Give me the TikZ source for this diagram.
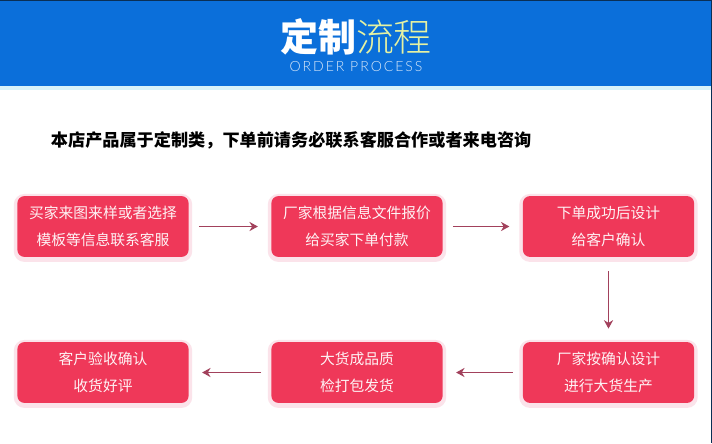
\documentclass[tikz,border=0pt]{standalone}
\usepackage{fontspec}
\usepackage{tikz}
\usetikzlibrary{arrows.meta,positioning}
\newfontfamily\cjk{Noto Sans CJK SC}
\newfontfamily\cjklight{Noto Sans CJK SC}[UprightFont=* Light]
\newfontfamily\thinlatin{Lato}[UprightFont=* Light,LetterSpace=14]
\definecolor{Banner}{HTML}{0B6FDA}
\definecolor{Navy}{HTML}{0A2F55}
\definecolor{Strip}{HTML}{D9F3FA}
\definecolor{Lime}{HTML}{E6F2A2}
\definecolor{Crimson}{HTML}{EF3859}
\definecolor{Blush}{HTML}{FBE3EA}
\definecolor{Wine}{HTML}{A2415C}

\begin{document}
\begin{tikzpicture}[x=0.025cm,y=-0.025cm,
    stepbox/.style={fill=Crimson,rounded corners=5pt,minimum width=4.28cm,minimum height=1.52cm,
      text=white!94!Crimson,align=center,font=\cjk\fontsize{10.5}{19}\selectfont,inner sep=0pt,
      preaction={draw=Blush,line width=5pt,transform canvas={yshift=-1pt}}},
    flow/.style={draw=Wine,line width=1.4pt,-{Stealth[length=6pt,width=6.5pt]},shorten <=0.25cm,shorten >=0.33cm}]
  \useasboundingbox (0,0) rectangle (712,443);
  \fill[white] (0,0) rectangle (712,443);
  % banner
  \fill[Banner] (0,0) rectangle (712,86);
  \fill[Strip] (0,86) rectangle (712,90);
  \draw[Navy,line width=1.2pt] (0,0.5)--(712,0.5);
  \draw[Navy,line width=1.2pt] (711.5,0)--(711.5,443);
  \node (title) at (356,37) {\fontsize{27}{27}\selectfont\cjk\bfseries\textcolor{white}{定制}\cjklight\mdseries\textcolor{Lime}{流程}};
  \node[text=white!85!Banner,font=\thinlatin\fontsize{10}{10}\selectfont] (subtitle) at (356,67) {ORDER PROCESS};
  \node[font=\cjk\bfseries\fontsize{12.2}{12}\selectfont,anchor=west] (note) at (46,140) {本店产品属于定制类，下单前请务必联系客服合作或者来电咨询};
  % steps
  \node[stepbox] (s1) at (103,226.5) {买家来图来样或者选择\\模板等信息联系客服};
  \node[stepbox] (s2) at (357,226.5) {厂家根据信息文件报价\\给买家下单付款};
  \node[stepbox] (s3) at (608.5,226.5) {下单成功后设计\\给客户确认};
  \node[stepbox] (s4) at (608.5,372.5) {厂家按确认设计\\进行大货生产};
  \node[stepbox] (s5) at (357,372.5) {大货成品质\\检打包发货};
  \node[stepbox] (s6) at (103,372.5) {客户验收确认\\收货好评};
  \foreach \a/\b in {s1/s2,s2/s3,s4/s5,s5/s6}{\draw[flow] (\a) -- (\b);}
  \draw[flow,shorten <=0.35cm] (s3) -- (s4);
\end{tikzpicture}
\end{document}
